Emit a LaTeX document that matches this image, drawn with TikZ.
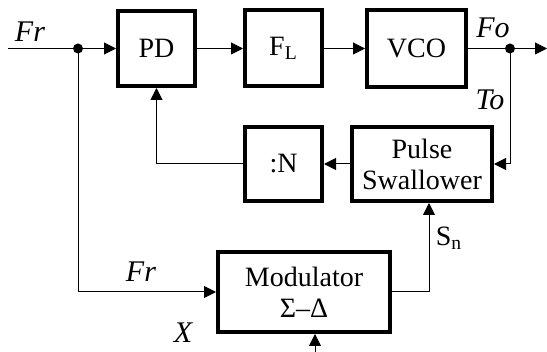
\documentclass[tikz,border=0pt]{standalone}
\usepackage{fontspec}
\setmainfont{Liberation Serif}
\usetikzlibrary{arrows.meta}

\begin{document}
\begin{tikzpicture}[x=0.5pt,y=-0.5pt,
    block/.style={draw,line width=2pt,inner sep=0pt,align=center,
      font=\fontsize{14}{15.5}\selectfont},
    sig/.style={line width=0.5pt,-{Triangle[length=6pt,width=6pt]}},
    wire/.style={line width=0.5pt},
    lbl/.style={font=\fontsize{15}{16}\selectfont\itshape}]
  \useasboundingbox (0,0) rectangle (547,352);

  % Forward path
  \node[block,minimum width=38.5pt,minimum height=37.5pt] (pd) at (156.5,48.5) {PD};
  \node[block,minimum width=38.5pt,minimum height=38pt] (fl) at (283.5,48.5) {F\textsubscript{L}};
  \node[block,minimum width=49.5pt,minimum height=38.5pt] (vco) at (416.5,48.5) {VCO};

  % Divider chain
  \node[block,minimum width=38.5pt,minimum height=37pt] (divn) at (283.5,164) {:N};
  \node[block,minimum width=70pt,minimum height=37pt] (ps) at (422,164) {Pulse\\Swallower};
  \node[block,minimum width=86pt,minimum height=40pt] (mod) at (304,292) {Modulator\\Σ–Δ};

  % Branch points
  \coordinate (in) at (8,48.5);
  \coordinate (fr) at (78,48.5);
  \coordinate (fo) at (510,48.5);
  \coordinate (out) at (547,48.5);
  \coordinate (xin) at (315,352);

  \draw[wire] (in) -- (fr);
  \draw[sig] (fr) -- (pd);
  \draw[sig] (pd) -- (fl);
  \draw[sig] (fl) -- (vco);
  \draw[wire] (vco) -- (fo);
  \draw[sig] (fo) -- (out);
  \draw[sig] (fo) |- (ps.east);
  \draw[sig] (ps) -- (divn);
  \draw[sig] (divn.west) -| (pd.south);
  \draw[sig] (fr) |- (mod.west);
  \draw[sig] (mod.east) -| ([xshift=3.5pt]ps.south);
  \draw[sig] (xin) -- (xin |- mod.south);

  \fill (fr) circle (2.5pt);
  \fill (fo) circle (2.5pt);

  % Signal names
  \node[lbl] (lfr) at (30,32) {Fr};
  \node[lbl] (lfo) at (493,28) {Fo};
  \node[lbl] (lto) at (490,100) {To};
  \node[lbl] (lfr2) at (141,272) {Fr};
  \node[font=\fontsize{14}{15.5}\selectfont] (lsn) at (449,238) {S\textsubscript{n}};
  \node[lbl] (lx) at (183,333) {X};
\end{tikzpicture}
\end{document}
